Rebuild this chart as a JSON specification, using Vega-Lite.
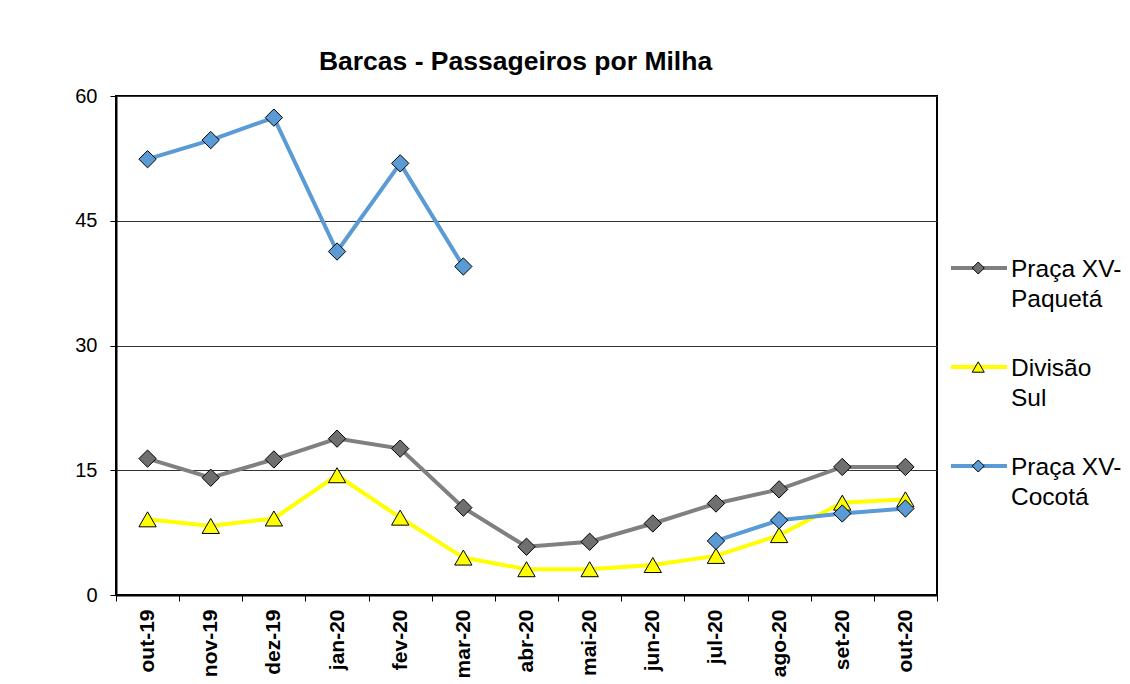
{
  "$schema": "https://vega.github.io/schema/vega-lite/v6.json",
  "width": 821,
  "height": 499,
  "autosize": {"type": "none"},
  "padding": {"left": 116, "top": 96, "right": 193, "bottom": 89},
  "background": "white",
  "config": {"view": {"stroke": "black", "strokeWidth": 2}, "font": "Liberation Sans"},
  "title": {"text": "Barcas - Passageiros por Milha", "font": "Liberation Sans", "fontSize": 26.5, "fontWeight": "bold", "color": "black", "anchor": "middle", "offset": -10, "baseline": "alphabetic", "dx": -11},
  "data": {"values": [
    {"mes": "out-19", "serie": "Praça XV-Paquetá", "valor": 16.4},
    {"mes": "nov-19", "serie": "Praça XV-Paquetá", "valor": 14.1},
    {"mes": "dez-19", "serie": "Praça XV-Paquetá", "valor": 16.3},
    {"mes": "jan-20", "serie": "Praça XV-Paquetá", "valor": 18.8},
    {"mes": "fev-20", "serie": "Praça XV-Paquetá", "valor": 17.6},
    {"mes": "mar-20", "serie": "Praça XV-Paquetá", "valor": 10.5},
    {"mes": "abr-20", "serie": "Praça XV-Paquetá", "valor": 5.8},
    {"mes": "mai-20", "serie": "Praça XV-Paquetá", "valor": 6.4},
    {"mes": "jun-20", "serie": "Praça XV-Paquetá", "valor": 8.6},
    {"mes": "jul-20", "serie": "Praça XV-Paquetá", "valor": 11.0},
    {"mes": "ago-20", "serie": "Praça XV-Paquetá", "valor": 12.7},
    {"mes": "set-20", "serie": "Praça XV-Paquetá", "valor": 15.4},
    {"mes": "out-20", "serie": "Praça XV-Paquetá", "valor": 15.4},
    {"mes": "out-19", "serie": "Divisão Sul", "valor": 9.1},
    {"mes": "nov-19", "serie": "Divisão Sul", "valor": 8.3},
    {"mes": "dez-19", "serie": "Divisão Sul", "valor": 9.2},
    {"mes": "jan-20", "serie": "Divisão Sul", "valor": 14.4},
    {"mes": "fev-20", "serie": "Divisão Sul", "valor": 9.3},
    {"mes": "mar-20", "serie": "Divisão Sul", "valor": 4.5},
    {"mes": "abr-20", "serie": "Divisão Sul", "valor": 3.1},
    {"mes": "mai-20", "serie": "Divisão Sul", "valor": 3.1},
    {"mes": "jun-20", "serie": "Divisão Sul", "valor": 3.6},
    {"mes": "jul-20", "serie": "Divisão Sul", "valor": 4.7},
    {"mes": "ago-20", "serie": "Divisão Sul", "valor": 7.2},
    {"mes": "set-20", "serie": "Divisão Sul", "valor": 11.1},
    {"mes": "out-20", "serie": "Divisão Sul", "valor": 11.5},
    {"mes": "out-19", "serie": "Praça XV-Cocotá", "valor": 52.4},
    {"mes": "nov-19", "serie": "Praça XV-Cocotá", "valor": 54.7},
    {"mes": "dez-19", "serie": "Praça XV-Cocotá", "valor": 57.4},
    {"mes": "jan-20", "serie": "Praça XV-Cocotá", "valor": 41.3},
    {"mes": "fev-20", "serie": "Praça XV-Cocotá", "valor": 51.9},
    {"mes": "mar-20", "serie": "Praça XV-Cocotá", "valor": 39.5},
    {"mes": "abr-20", "serie": "Praça XV-Cocotá", "valor": null},
    {"mes": "mai-20", "serie": "Praça XV-Cocotá", "valor": null},
    {"mes": "jun-20", "serie": "Praça XV-Cocotá", "valor": null},
    {"mes": "jul-20", "serie": "Praça XV-Cocotá", "valor": 6.5},
    {"mes": "ago-20", "serie": "Praça XV-Cocotá", "valor": 9.0},
    {"mes": "set-20", "serie": "Praça XV-Cocotá", "valor": 9.8},
    {"mes": "out-20", "serie": "Praça XV-Cocotá", "valor": 10.4}
  ]},
  "encoding": {
    "x": {
      "field": "mes", "type": "ordinal",
      "sort": ["out-19", "nov-19", "dez-19", "jan-20", "fev-20", "mar-20", "abr-20", "mai-20", "jun-20", "jul-20", "ago-20", "set-20", "out-20"],
      "scale": {"type": "band", "paddingInner": 0, "paddingOuter": 0},
      "bandPosition": 0.5,
      "axis": {"title": null, "labelAngle": -90, "labelFontSize": 21, "labelFontWeight": "bold", "labelColor": "black", "labelFont": "Liberation Sans", "domainColor": "black", "domainWidth": 2, "tickColor": "black", "tickSize": 6, "tickWidth": 1, "tickBand": "extent", "labelPadding": 8, "grid": false}
    },
    "y": {
      "field": "valor", "type": "quantitative",
      "scale": {"domain": [0, 60], "nice": false},
      "axis": {"title": null, "values": [0, 15, 30, 45, 60], "grid": true, "gridColor": "#333333", "gridWidth": 1, "domainColor": "black", "domainWidth": 2, "tickColor": "black", "tickSize": 6, "tickWidth": 1, "labelFontSize": 20, "labelColor": "black", "labelPadding": 13, "labelFont": "Liberation Sans"}
    }
  },
  "layer": [
    {
      "mark": {"type": "line", "strokeWidth": 4, "invalid": "break-paths-show-domains"},
      "encoding": {
        "stroke": {
          "field": "serie", "type": "nominal",
          "scale": {"domain": ["Praça XV-Paquetá", "Divisão Sul", "Praça XV-Cocotá"], "range": ["#808080", "#ffff00", "#5b9bd5"]},
          "legend": {
            "orient": "none", "legendX": 833, "legendY": 162, "title": null, "padding": 0, "clipHeight": 20,
            "symbolType": "stroke", "symbolSize": 3136, "symbolStrokeWidth": 4,
            "labelFontSize": 24.5, "labelFont": "Liberation Sans", "labelColor": "black", "labelOffset": 2, "labelLimit": 300,
            "labelExpr": "datum.label == 'Divisão Sul' ? ['Divisão', 'Sul'] : ['Praça XV-', slice(datum.label, 9)]",
            "rowPadding": 44,
            "encode": {"labels": {"update": {"lineHeight": {"value": 30}, "dy": {"value": 2}}}}
          }
        }
      }
    },
    {
      "mark": {"type": "point", "filled": true, "stroke": "black", "strokeWidth": 1, "opacity": 1, "size": 300, "invalid": "filter"},
      "encoding": {
        "fill": {
          "field": "serie", "type": "nominal",
          "scale": {"domain": ["Praça XV-Cocotá", "Divisão Sul", "Praça XV-Paquetá"], "range": ["#5b9bd5", "#ffff00", "#6f6f6f"]},
          "legend": {
            "orient": "none", "legendX": 850, "legendY": 162, "title": null, "padding": 0, "clipHeight": 20,
            "values": ["Praça XV-Paquetá", "Divisão Sul", "Praça XV-Cocotá"],
            "symbolSize": 144, "symbolStrokeColor": "black", "symbolStrokeWidth": 1, "symbolOpacity": 1,
            "labelFontSize": 24.5, "labelFont": "Liberation Sans", "labelColor": "black", "labelOpacity": 0, "labelOffset": 2, "labelLimit": 300,
            "labelExpr": "datum.label == 'Divisão Sul' ? ['Divisão', 'Sul'] : ['Praça XV-', slice(datum.label, 9)]",
            "rowPadding": 44,
            "encode": {"labels": {"update": {"lineHeight": {"value": 30}, "dy": {"value": 2}}}}
          }
        },
        "shape": {
          "field": "serie", "type": "nominal",
          "scale": {"domain": ["Praça XV-Cocotá", "Divisão Sul", "Praça XV-Paquetá"], "range": ["diamond", "triangle-up", "diamond"]},
          "legend": {
            "orient": "none", "legendX": 850, "legendY": 162, "title": null, "padding": 0, "clipHeight": 20,
            "values": ["Praça XV-Paquetá", "Divisão Sul", "Praça XV-Cocotá"],
            "symbolSize": 144, "symbolStrokeColor": "black", "symbolStrokeWidth": 1, "symbolOpacity": 1,
            "labelFontSize": 24.5, "labelFont": "Liberation Sans", "labelColor": "black", "labelOpacity": 0, "labelOffset": 2, "labelLimit": 300,
            "labelExpr": "datum.label == 'Divisão Sul' ? ['Divisão', 'Sul'] : ['Praça XV-', slice(datum.label, 9)]",
            "rowPadding": 44,
            "encode": {"labels": {"update": {"lineHeight": {"value": 30}, "dy": {"value": 2}}}}
          }
        }
      }
    }
  ]
}
